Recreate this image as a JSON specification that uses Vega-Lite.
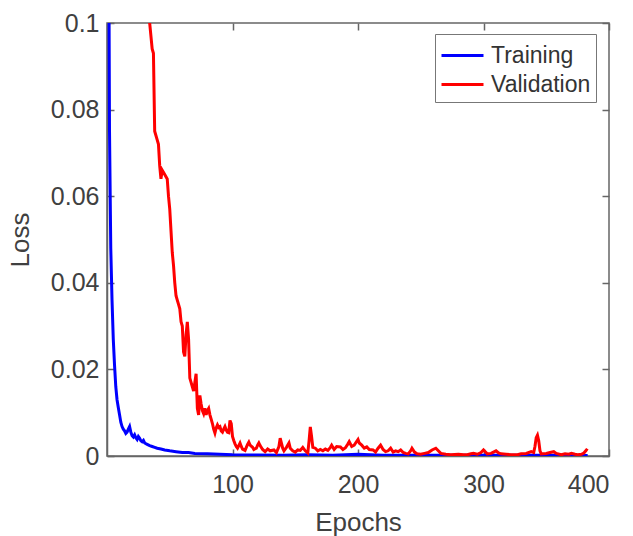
{
  "$schema": "https://vega.github.io/schema/vega-lite/v6.json",
  "autosize": {"type": "none"},
  "width": 502,
  "height": 433,
  "padding": {"left": 107, "top": 23, "right": 24, "bottom": 80},
  "background": "white",
  "config": {
    "view": {"stroke": "#666", "strokeWidth": 1.5},
    "font": "Liberation Sans",
    "axis": {"grid": false, "domainColor": "#666", "tickColor": "#666", "labelColor": "#404040", "titleColor": "#404040", "labelFont": "Liberation Sans", "titleFont": "Liberation Sans", "labelFontSize": 25, "titleFontSize": 26, "titleFontWeight": "normal", "tickSize": -7, "domainWidth": 1.5, "tickWidth": 1.5}
  },
  "data": {"values": [
    {"epoch":1,"loss":0.15,"series":"Training"},
    {"epoch":2,"loss":0.075,"series":"Training"},
    {"epoch":3,"loss":0.048,"series":"Training"},
    {"epoch":4,"loss":0.036,"series":"Training"},
    {"epoch":5,"loss":0.027,"series":"Training"},
    {"epoch":6,"loss":0.021,"series":"Training"},
    {"epoch":7,"loss":0.016,"series":"Training"},
    {"epoch":8,"loss":0.013,"series":"Training"},
    {"epoch":9,"loss":0.0112,"series":"Training"},
    {"epoch":10,"loss":0.0095,"series":"Training"},
    {"epoch":11,"loss":0.0078,"series":"Training"},
    {"epoch":12,"loss":0.0068,"series":"Training"},
    {"epoch":13,"loss":0.0062,"series":"Training"},
    {"epoch":14,"loss":0.0058,"series":"Training"},
    {"epoch":15,"loss":0.0052,"series":"Training"},
    {"epoch":16,"loss":0.0055,"series":"Training"},
    {"epoch":17,"loss":0.0062,"series":"Training"},
    {"epoch":18,"loss":0.0068,"series":"Training"},
    {"epoch":19,"loss":0.0055,"series":"Training"},
    {"epoch":20,"loss":0.0047,"series":"Training"},
    {"epoch":21,"loss":0.0044,"series":"Training"},
    {"epoch":22,"loss":0.0049,"series":"Training"},
    {"epoch":23,"loss":0.0042,"series":"Training"},
    {"epoch":24,"loss":0.0038,"series":"Training"},
    {"epoch":25,"loss":0.0045,"series":"Training"},
    {"epoch":26,"loss":0.0041,"series":"Training"},
    {"epoch":27,"loss":0.0035,"series":"Training"},
    {"epoch":28,"loss":0.0033,"series":"Training"},
    {"epoch":29,"loss":0.0036,"series":"Training"},
    {"epoch":30,"loss":0.003,"series":"Training"},
    {"epoch":32,"loss":0.0027,"series":"Training"},
    {"epoch":34,"loss":0.0024,"series":"Training"},
    {"epoch":36,"loss":0.0022,"series":"Training"},
    {"epoch":38,"loss":0.002,"series":"Training"},
    {"epoch":40,"loss":0.0018,"series":"Training"},
    {"epoch":43,"loss":0.0016,"series":"Training"},
    {"epoch":46,"loss":0.0014,"series":"Training"},
    {"epoch":50,"loss":0.0012,"series":"Training"},
    {"epoch":55,"loss":0.001,"series":"Training"},
    {"epoch":60,"loss":0.0008,"series":"Training"},
    {"epoch":65,"loss":0.0008,"series":"Training"},
    {"epoch":70,"loss":0.0006,"series":"Training"},
    {"epoch":80,"loss":0.0005,"series":"Training"},
    {"epoch":90,"loss":0.0004,"series":"Training"},
    {"epoch":100,"loss":0.0003,"series":"Training"},
    {"epoch":120,"loss":0.00025,"series":"Training"},
    {"epoch":140,"loss":0.0002,"series":"Training"},
    {"epoch":160,"loss":0.0003,"series":"Training"},
    {"epoch":180,"loss":0.0002,"series":"Training"},
    {"epoch":200,"loss":0.0004,"series":"Training"},
    {"epoch":220,"loss":0.0002,"series":"Training"},
    {"epoch":250,"loss":0.0002,"series":"Training"},
    {"epoch":280,"loss":0.00015,"series":"Training"},
    {"epoch":300,"loss":0.00015,"series":"Training"},
    {"epoch":340,"loss":0.0002,"series":"Training"},
    {"epoch":383,"loss":0.0001,"series":"Training"},
    {"epoch":33,"loss":0.105,"series":"Validation"},
    {"epoch":34,"loss":0.1,"series":"Validation"},
    {"epoch":36,"loss":0.094,"series":"Validation"},
    {"epoch":37,"loss":0.093,"series":"Validation"},
    {"epoch":38,"loss":0.075,"series":"Validation"},
    {"epoch":40,"loss":0.073,"series":"Validation"},
    {"epoch":41,"loss":0.072,"series":"Validation"},
    {"epoch":42,"loss":0.067,"series":"Validation"},
    {"epoch":43,"loss":0.064,"series":"Validation"},
    {"epoch":44,"loss":0.066,"series":"Validation"},
    {"epoch":46,"loss":0.065,"series":"Validation"},
    {"epoch":48,"loss":0.064,"series":"Validation"},
    {"epoch":49,"loss":0.06,"series":"Validation"},
    {"epoch":50,"loss":0.057,"series":"Validation"},
    {"epoch":51,"loss":0.052,"series":"Validation"},
    {"epoch":52,"loss":0.047,"series":"Validation"},
    {"epoch":53,"loss":0.044,"series":"Validation"},
    {"epoch":54,"loss":0.04,"series":"Validation"},
    {"epoch":55,"loss":0.037,"series":"Validation"},
    {"epoch":56,"loss":0.036,"series":"Validation"},
    {"epoch":57,"loss":0.035,"series":"Validation"},
    {"epoch":58,"loss":0.034,"series":"Validation"},
    {"epoch":59,"loss":0.031,"series":"Validation"},
    {"epoch":60,"loss":0.03,"series":"Validation"},
    {"epoch":61,"loss":0.024,"series":"Validation"},
    {"epoch":62,"loss":0.023,"series":"Validation"},
    {"epoch":63,"loss":0.028,"series":"Validation"},
    {"epoch":64,"loss":0.031,"series":"Validation"},
    {"epoch":65,"loss":0.027,"series":"Validation"},
    {"epoch":66,"loss":0.018,"series":"Validation"},
    {"epoch":67,"loss":0.017,"series":"Validation"},
    {"epoch":68,"loss":0.016,"series":"Validation"},
    {"epoch":69,"loss":0.015,"series":"Validation"},
    {"epoch":70,"loss":0.017,"series":"Validation"},
    {"epoch":71,"loss":0.019,"series":"Validation"},
    {"epoch":72,"loss":0.011,"series":"Validation"},
    {"epoch":73,"loss":0.0095,"series":"Validation"},
    {"epoch":74,"loss":0.014,"series":"Validation"},
    {"epoch":75,"loss":0.012,"series":"Validation"},
    {"epoch":76,"loss":0.0105,"series":"Validation"},
    {"epoch":77,"loss":0.0098,"series":"Validation"},
    {"epoch":78,"loss":0.011,"series":"Validation"},
    {"epoch":79,"loss":0.0095,"series":"Validation"},
    {"epoch":80,"loss":0.0105,"series":"Validation"},
    {"epoch":81,"loss":0.011,"series":"Validation"},
    {"epoch":82,"loss":0.0095,"series":"Validation"},
    {"epoch":83,"loss":0.0085,"series":"Validation"},
    {"epoch":84,"loss":0.0075,"series":"Validation"},
    {"epoch":85,"loss":0.0062,"series":"Validation"},
    {"epoch":86,"loss":0.0053,"series":"Validation"},
    {"epoch":87,"loss":0.0065,"series":"Validation"},
    {"epoch":88,"loss":0.0072,"series":"Validation"},
    {"epoch":89,"loss":0.0066,"series":"Validation"},
    {"epoch":90,"loss":0.0068,"series":"Validation"},
    {"epoch":91,"loss":0.0058,"series":"Validation"},
    {"epoch":92,"loss":0.0055,"series":"Validation"},
    {"epoch":93,"loss":0.0062,"series":"Validation"},
    {"epoch":94,"loss":0.0068,"series":"Validation"},
    {"epoch":95,"loss":0.006,"series":"Validation"},
    {"epoch":96,"loss":0.0055,"series":"Validation"},
    {"epoch":97,"loss":0.0054,"series":"Validation"},
    {"epoch":98,"loss":0.0082,"series":"Validation"},
    {"epoch":99,"loss":0.0075,"series":"Validation"},
    {"epoch":100,"loss":0.0045,"series":"Validation"},
    {"epoch":101,"loss":0.0036,"series":"Validation"},
    {"epoch":102,"loss":0.0028,"series":"Validation"},
    {"epoch":103,"loss":0.0022,"series":"Validation"},
    {"epoch":104,"loss":0.0018,"series":"Validation"},
    {"epoch":105,"loss":0.0024,"series":"Validation"},
    {"epoch":106,"loss":0.003,"series":"Validation"},
    {"epoch":107,"loss":0.0022,"series":"Validation"},
    {"epoch":108,"loss":0.0016,"series":"Validation"},
    {"epoch":110,"loss":0.0013,"series":"Validation"},
    {"epoch":111,"loss":0.002,"series":"Validation"},
    {"epoch":112,"loss":0.0027,"series":"Validation"},
    {"epoch":113,"loss":0.0032,"series":"Validation"},
    {"epoch":114,"loss":0.0025,"series":"Validation"},
    {"epoch":116,"loss":0.002,"series":"Validation"},
    {"epoch":117,"loss":0.0015,"series":"Validation"},
    {"epoch":119,"loss":0.0018,"series":"Validation"},
    {"epoch":120,"loss":0.0025,"series":"Validation"},
    {"epoch":121,"loss":0.003,"series":"Validation"},
    {"epoch":122,"loss":0.0024,"series":"Validation"},
    {"epoch":124,"loss":0.0015,"series":"Validation"},
    {"epoch":126,"loss":0.001,"series":"Validation"},
    {"epoch":128,"loss":0.0016,"series":"Validation"},
    {"epoch":130,"loss":0.0012,"series":"Validation"},
    {"epoch":133,"loss":0.0014,"series":"Validation"},
    {"epoch":135,"loss":0.0008,"series":"Validation"},
    {"epoch":137,"loss":0.0022,"series":"Validation"},
    {"epoch":138,"loss":0.0041,"series":"Validation"},
    {"epoch":139,"loss":0.003,"series":"Validation"},
    {"epoch":140,"loss":0.0018,"series":"Validation"},
    {"epoch":141,"loss":0.0012,"series":"Validation"},
    {"epoch":143,"loss":0.002,"series":"Validation"},
    {"epoch":145,"loss":0.003,"series":"Validation"},
    {"epoch":146,"loss":0.0018,"series":"Validation"},
    {"epoch":148,"loss":0.0012,"series":"Validation"},
    {"epoch":150,"loss":0.0009,"series":"Validation"},
    {"epoch":152,"loss":0.0014,"series":"Validation"},
    {"epoch":154,"loss":0.0013,"series":"Validation"},
    {"epoch":156,"loss":0.002,"series":"Validation"},
    {"epoch":158,"loss":0.0012,"series":"Validation"},
    {"epoch":160,"loss":0.0007,"series":"Validation"},
    {"epoch":161,"loss":0.0035,"series":"Validation"},
    {"epoch":162,"loss":0.0067,"series":"Validation"},
    {"epoch":163,"loss":0.0045,"series":"Validation"},
    {"epoch":164,"loss":0.002,"series":"Validation"},
    {"epoch":166,"loss":0.0018,"series":"Validation"},
    {"epoch":168,"loss":0.0012,"series":"Validation"},
    {"epoch":170,"loss":0.0015,"series":"Validation"},
    {"epoch":172,"loss":0.0012,"series":"Validation"},
    {"epoch":174,"loss":0.0016,"series":"Validation"},
    {"epoch":176,"loss":0.0013,"series":"Validation"},
    {"epoch":178,"loss":0.002,"series":"Validation"},
    {"epoch":179,"loss":0.0025,"series":"Validation"},
    {"epoch":181,"loss":0.0015,"series":"Validation"},
    {"epoch":183,"loss":0.0022,"series":"Validation"},
    {"epoch":186,"loss":0.0021,"series":"Validation"},
    {"epoch":188,"loss":0.0015,"series":"Validation"},
    {"epoch":190,"loss":0.0019,"series":"Validation"},
    {"epoch":192,"loss":0.0028,"series":"Validation"},
    {"epoch":193,"loss":0.0033,"series":"Validation"},
    {"epoch":195,"loss":0.0022,"series":"Validation"},
    {"epoch":197,"loss":0.0025,"series":"Validation"},
    {"epoch":199,"loss":0.0034,"series":"Validation"},
    {"epoch":200,"loss":0.0038,"series":"Validation"},
    {"epoch":201,"loss":0.003,"series":"Validation"},
    {"epoch":203,"loss":0.0025,"series":"Validation"},
    {"epoch":205,"loss":0.0018,"series":"Validation"},
    {"epoch":207,"loss":0.0021,"series":"Validation"},
    {"epoch":209,"loss":0.0015,"series":"Validation"},
    {"epoch":212,"loss":0.0014,"series":"Validation"},
    {"epoch":214,"loss":0.0009,"series":"Validation"},
    {"epoch":216,"loss":0.0018,"series":"Validation"},
    {"epoch":218,"loss":0.0025,"series":"Validation"},
    {"epoch":220,"loss":0.0015,"series":"Validation"},
    {"epoch":222,"loss":0.001,"series":"Validation"},
    {"epoch":224,"loss":0.0012,"series":"Validation"},
    {"epoch":226,"loss":0.0018,"series":"Validation"},
    {"epoch":228,"loss":0.0009,"series":"Validation"},
    {"epoch":230,"loss":0.0012,"series":"Validation"},
    {"epoch":232,"loss":0.001,"series":"Validation"},
    {"epoch":234,"loss":0.0014,"series":"Validation"},
    {"epoch":236,"loss":0.0008,"series":"Validation"},
    {"epoch":238,"loss":0.0006,"series":"Validation"},
    {"epoch":240,"loss":0.0005,"series":"Validation"},
    {"epoch":242,"loss":0.0012,"series":"Validation"},
    {"epoch":243,"loss":0.0018,"series":"Validation"},
    {"epoch":245,"loss":0.0009,"series":"Validation"},
    {"epoch":247,"loss":0.0005,"series":"Validation"},
    {"epoch":250,"loss":0.0004,"series":"Validation"},
    {"epoch":253,"loss":0.0006,"series":"Validation"},
    {"epoch":256,"loss":0.0008,"series":"Validation"},
    {"epoch":259,"loss":0.0014,"series":"Validation"},
    {"epoch":262,"loss":0.0018,"series":"Validation"},
    {"epoch":264,"loss":0.0012,"series":"Validation"},
    {"epoch":266,"loss":0.0006,"series":"Validation"},
    {"epoch":270,"loss":0.0004,"series":"Validation"},
    {"epoch":274,"loss":0.0003,"series":"Validation"},
    {"epoch":280,"loss":0.0004,"series":"Validation"},
    {"epoch":284,"loss":0.0003,"series":"Validation"},
    {"epoch":287,"loss":0.0003,"series":"Validation"},
    {"epoch":290,"loss":0.0005,"series":"Validation"},
    {"epoch":292,"loss":0.0006,"series":"Validation"},
    {"epoch":295,"loss":0.0004,"series":"Validation"},
    {"epoch":298,"loss":0.0008,"series":"Validation"},
    {"epoch":300,"loss":0.0014,"series":"Validation"},
    {"epoch":302,"loss":0.0008,"series":"Validation"},
    {"epoch":303,"loss":0.0005,"series":"Validation"},
    {"epoch":306,"loss":0.0006,"series":"Validation"},
    {"epoch":308,"loss":0.0009,"series":"Validation"},
    {"epoch":310,"loss":0.0012,"series":"Validation"},
    {"epoch":312,"loss":0.0007,"series":"Validation"},
    {"epoch":314,"loss":0.0005,"series":"Validation"},
    {"epoch":318,"loss":0.0004,"series":"Validation"},
    {"epoch":322,"loss":0.0003,"series":"Validation"},
    {"epoch":327,"loss":0.0003,"series":"Validation"},
    {"epoch":330,"loss":0.0005,"series":"Validation"},
    {"epoch":334,"loss":0.0006,"series":"Validation"},
    {"epoch":338,"loss":0.001,"series":"Validation"},
    {"epoch":340,"loss":0.0008,"series":"Validation"},
    {"epoch":341,"loss":0.0022,"series":"Validation"},
    {"epoch":342,"loss":0.0042,"series":"Validation"},
    {"epoch":343,"loss":0.0048,"series":"Validation"},
    {"epoch":344,"loss":0.0035,"series":"Validation"},
    {"epoch":345,"loss":0.0012,"series":"Validation"},
    {"epoch":346,"loss":0.0005,"series":"Validation"},
    {"epoch":350,"loss":0.0006,"series":"Validation"},
    {"epoch":353,"loss":0.0008,"series":"Validation"},
    {"epoch":356,"loss":0.001,"series":"Validation"},
    {"epoch":358,"loss":0.0006,"series":"Validation"},
    {"epoch":362,"loss":0.0003,"series":"Validation"},
    {"epoch":365,"loss":0.0005,"series":"Validation"},
    {"epoch":368,"loss":0.0004,"series":"Validation"},
    {"epoch":370,"loss":0.0006,"series":"Validation"},
    {"epoch":373,"loss":0.0004,"series":"Validation"},
    {"epoch":375,"loss":0.0003,"series":"Validation"},
    {"epoch":378,"loss":0.0004,"series":"Validation"},
    {"epoch":380,"loss":0.0007,"series":"Validation"},
    {"epoch":382,"loss":0.0014,"series":"Validation"},
    {"epoch":383,"loss":0.0012,"series":"Validation"}
  ]},
  "layer": [
    {
      "mark": {"type": "line", "strokeWidth": 3, "clip": true},
      "encoding": {
        "x": {"field": "epoch", "type": "quantitative", "scale": {"domain": [0, 400], "nice": false}, "axis": {"title": "Epochs", "values": [100, 200, 300, 400], "labelPadding": 23, "titlePadding": 12}},
        "y": {"field": "loss", "type": "quantitative", "scale": {"domain": [0, 0.1], "nice": false}, "axis": {"title": "Loss", "values": [0, 0.02, 0.04, 0.06, 0.08, 0.1], "format": "~g", "labelPadding": 15, "titlePadding": 17}},
        "color": {"field": "series", "type": "nominal", "scale": {"domain": ["Training", "Validation"], "range": ["#0000ff", "#ff0000"]},
          "legend": {"title": null, "orient": "none", "legendX": 328, "legendY": 11, "strokeColor": "#777", "fillColor": "white", "padding": 5, "labelFontSize": 23, "labelFont": "Liberation Sans", "labelColor": "#333", "symbolType": "M-1,0H1.8", "symbolStrokeWidth": 3, "symbolSize": 900, "rowPadding": 0, "labelOffset": 18}}
      }
    },
    {
      "mark": {"type": "line", "opacity": 0, "clip": true},
      "encoding": {
        "x": {"field": "epoch", "type": "quantitative", "scale": {"domain": [0, 400], "nice": false}, "axis": {"orient": "top", "title": null, "labels": false, "domain": false, "values": [100, 200, 300, 400]}},
        "y": {"field": "loss", "type": "quantitative", "scale": {"domain": [0, 0.1], "nice": false}, "axis": {"orient": "right", "title": null, "labels": false, "domain": false, "values": [0, 0.02, 0.04, 0.06, 0.08, 0.1]}},
        "detail": {"field": "series", "type": "nominal"}
      }
    }
  ],
  "resolve": {"axis": {"x": "independent", "y": "independent"}}
}
